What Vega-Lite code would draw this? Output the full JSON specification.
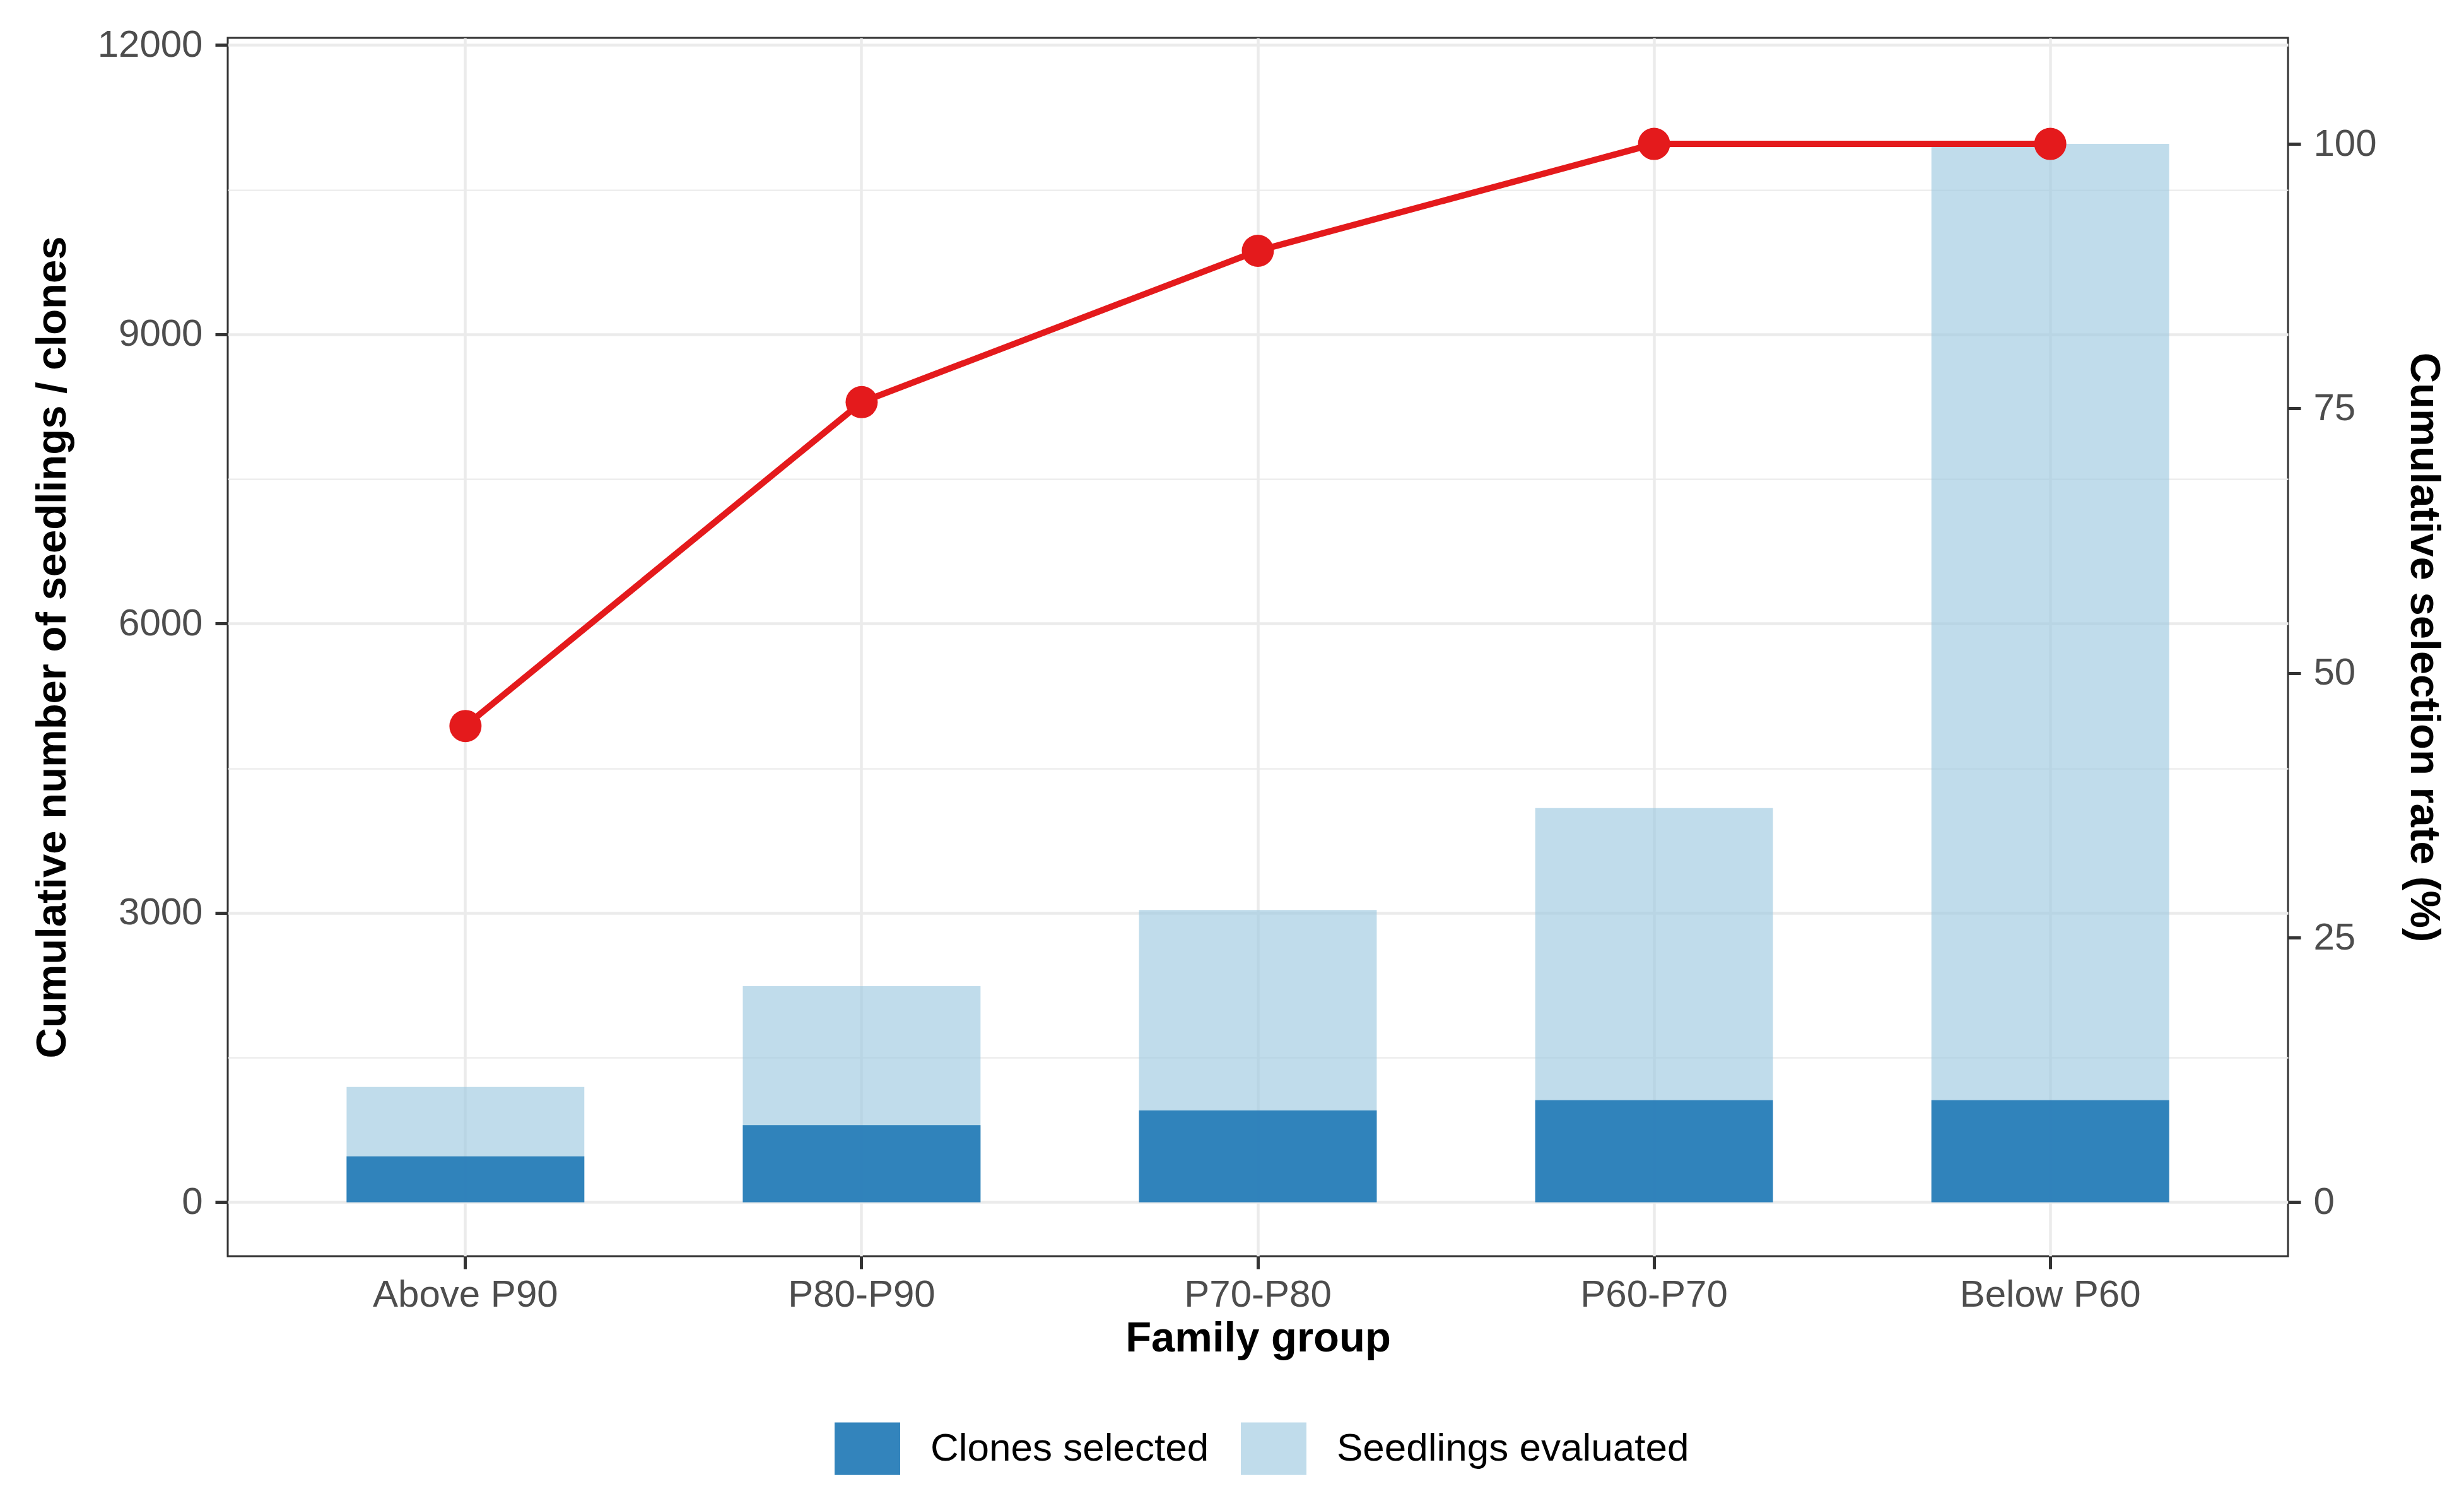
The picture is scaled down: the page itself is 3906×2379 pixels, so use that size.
{
  "$schema": "https://vega.github.io/schema/vega-lite/v6.json",
  "width": 3266,
  "height": 1931,
  "autosize": {"type": "none"},
  "padding": {"left": 361, "top": 60, "right": 279, "bottom": 388},
  "background": "white",
  "config": {
    "font": "Liberation Sans",
    "view": {"stroke": "#333333", "strokeWidth": 3},
    "axis": {
      "domain": false,
      "labelFont": "Liberation Sans",
      "labelFontSize": 60,
      "labelColor": "#4d4d4d",
      "labelLimit": 0,
      "titleFont": "Liberation Sans",
      "titleFontSize": 67,
      "titleFontWeight": "bold",
      "titleColor": "black",
      "tickColor": "#333333",
      "tickWidth": 5,
      "tickSize": 20,
      "labelPadding": 20,
      "gridColor": "#ebebeb"
    },
    "legend": {
      "labelFont": "Liberation Sans",
      "labelFontSize": 62,
      "labelColor": "black",
      "labelLimit": 0
    }
  },
  "datasets": {
    "counts": [
      {"group": "Above P90", "series": "Seedlings evaluated", "n": 1196},
      {"group": "P80-P90", "series": "Seedlings evaluated", "n": 2241},
      {"group": "P70-P80", "series": "Seedlings evaluated", "n": 3030},
      {"group": "P60-P70", "series": "Seedlings evaluated", "n": 4088},
      {"group": "Below P60", "series": "Seedlings evaluated", "n": 10975},
      {"group": "Above P90", "series": "Clones selected", "n": 476},
      {"group": "P80-P90", "series": "Clones selected", "n": 800},
      {"group": "P70-P80", "series": "Clones selected", "n": 951},
      {"group": "P60-P70", "series": "Clones selected", "n": 1058},
      {"group": "Below P60", "series": "Clones selected", "n": 1058}
    ],
    "rates": [
      {"group": "Above P90", "rate": 45.0},
      {"group": "P80-P90", "rate": 75.6},
      {"group": "P70-P80", "rate": 89.9},
      {"group": "P60-P70", "rate": 100},
      {"group": "Below P60", "rate": 100}
    ]
  },
  "encoding": {
    "x": {
      "field": "group",
      "type": "nominal",
      "title": "Family group",
      "scale": {
        "domain": ["Above P90", "P80-P90", "P70-P80", "P60-P70", "Below P60"],
        "paddingInner": 0.4,
        "paddingOuter": 0.3
      },
      "axis": {
        "labelAngle": 0,
        "bandPosition": 0.5,
        "grid": true,
        "gridWidth": 4.5,
        "labelPadding": 12,
        "titlePadding": 6
      }
    }
  },
  "layer": [
    {
      "data": {"name": "counts"},
      "mark": {"type": "bar"},
      "encoding": {
        "y": {
          "field": "n",
          "type": "quantitative",
          "stack": null,
          "title": "Cumulative number of seedlings / clones",
          "scale": {"domain": [-560, 12075], "nice": false, "zero": false},
          "axis": {
            "values": [0, 1500, 3000, 4500, 6000, 7500, 9000, 10500, 12000],
            "labelExpr": "datum.value % 3000 === 0 ? datum.label : ''",
            "format": "d",
            "grid": true,
            "gridWidth": {"condition": {"test": "datum.value % 3000 === 0", "value": 4.5}, "value": 2.25},
            "tickOpacity": {"condition": {"test": "datum.value % 3000 === 0", "value": 1}, "value": 0},
            "titlePadding": 44
          }
        },
        "color": {
          "field": "series",
          "type": "nominal",
          "scale": {
            "domain": ["Clones selected", "Seedlings evaluated"],
            "range": ["rgba(40,125,184,0.95)", "rgba(158,202,225,0.65)"]
          },
          "legend": {
            "title": null,
            "orient": "none",
            "direction": "horizontal",
            "legendX": 962,
            "legendY": 2184,
            "symbolType": "M-1,-0.8H1V0.8H-1Z",
            "symbolSize": 10816,
            "symbolStrokeWidth": 0,
            "symbolOpacity": 1,
            "labelOffset": 48,
            "columnPadding": 50
          }
        }
      }
    },
    {
      "data": {"name": "rates"},
      "encoding": {
        "y": {
          "field": "rate",
          "type": "quantitative",
          "title": "Cumulative selection rate (%)",
          "scale": {"domain": [-5.1, 110.02], "nice": false, "zero": false},
          "axis": {
            "orient": "right",
            "values": [0, 25, 50, 75, 100],
            "grid": false,
            "titlePadding": 40
          }
        }
      },
      "layer": [
        {"mark": {"type": "line", "color": "#e41a1c", "strokeWidth": 10}},
        {"mark": {"type": "point", "filled": true, "color": "#e41a1c", "size": 2600, "opacity": 1}}
      ]
    }
  ],
  "resolve": {"scale": {"y": "independent"}}
}
